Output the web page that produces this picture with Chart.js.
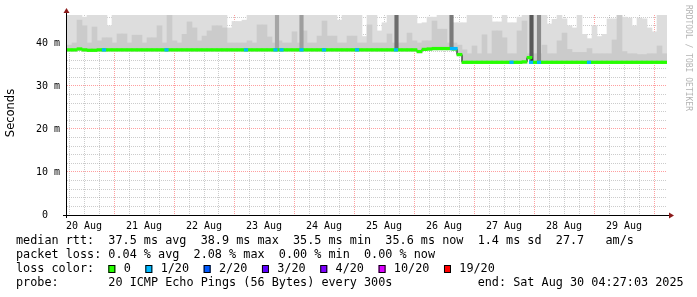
<!DOCTYPE html>
<html>
<head>
<meta charset="utf-8">
<title>smokeping 10 days</title>
<script src="https://cdn.jsdelivr.net/npm/chart.js@4.4.1/dist/chart.umd.min.js"></script>
<style>
body{margin:0;background:#fff;}
canvas{display:block;}
</style>
</head>
<body>
<canvas id="pingCanvas" width="697" height="297"></canvas>
<script>
// time axis in hours counted from 20 Aug 00:00
const startHour = 5.2;
const endHour = 245.2;
const binHours = 2;

const dayLabels = ["20 Aug","21 Aug","22 Aug","23 Aug","24 Aug","25 Aug","26 Aug","27 Aug","28 Aug","29 Aug"];
const yTicks = [0,2,4,6,8,10,12,14,16,18,20,22,24,26,28,30,32,34,36,38,40,42,44,46];

// median rtt (ms), one value per 2h bin
const medianRtt = [
  38.4,38.4,38.6,38.4,38.3,38.3,38.4,38.4,38.4,38.4,
  38.4,38.4,38.4,38.4,38.4,38.4,38.4,38.4,38.4,38.4,
  38.4,38.4,38.4,38.4,38.4,38.4,38.4,38.4,38.4,38.4,
  38.4,38.4,38.4,38.4,38.4,38.4,38.4,38.4,38.4,38.4,
  38.4,38.4,38.4,38.4,38.4,38.4,38.4,38.4,38.4,38.4,
  38.4,38.4,38.4,38.4,38.4,38.4,38.4,38.4,38.4,38.4,
  38.4,38.4,38.4,38.4,38.4,38.4,38.4,38.4,38.4,38.4,
  38.0,38.5,38.6,38.7,38.7,38.7,38.7,38.6,37.3,35.5,
  35.5,35.5,35.5,35.5,35.5,35.5,35.5,35.5,35.5,35.5,
  35.5,35.6,36.6,35.5,35.5,35.5,35.5,35.5,35.5,35.5,
  35.5,35.5,35.5,35.5,35.5,35.5,35.5,35.5,35.5,35.5,
  35.5,35.5,35.5,35.5,35.5,35.5,35.5,35.5,35.5,35.5
];

// top of the light smoke (ms), 47 = above the graph
const smokeTop = [
  47,47,47,46.0,47,47,47,47,44.0,47,
  47,47,47,47,47,47,47,47,47,47,
  47,47,47,47,47,47,47,47,47,47,
  47,47,43.5,45.0,45.0,45.3,47,47,47,47,
  47,47,47,47,47,47,47,47,47,47,
  47,47,47,47,45.3,47,47,47,47,41.5,
  47,47,42.8,44.7,47,47,47,47,47,47,
  44.5,44.7,46.0,46.0,47,47,47,44.7,44.7,44.7,
  47,47,47,47,47,44.9,44.9,47,44.7,44.7,
  46.0,47,47,47,47,47,44.4,45.5,47,45.6,
  44.0,43.5,47,42.0,41.0,44.0,41.5,42.0,45.6,45.6,
  47,46.0,45.8,44.0,45.8,45.6,43.5,42.6,47,47
];

// top of the darker smoke (ms)
const smokeMid = [
  39.5,40,45.3,44,40,43.7,40.5,41.2,41.2,40,
  42.1,42.1,40,41.8,41.8,40,41.2,41.2,44,40,
  47,40.5,40,42,44.9,43.5,40.5,41.6,42.8,44.0,
  44.0,43.5,40,40,40,40,40.5,40,44.2,44.2,
  41.4,40,40.5,40,40,42.6,40,42.8,40,40,
  41.6,45.1,41.6,41.6,40,40,41.6,41.6,40,40,
  44.2,40,40,40,42.1,40,40,40,42.3,40.5,
  40,40.5,40.5,45.1,43.2,43.2,40,40,39.5,38.4,
  37.5,39.3,37.5,41.9,37.5,42.8,42.8,41.2,37.5,37.5,
  42.8,45.1,37.5,37.5,37.5,39.5,37.5,37.5,40.5,42.3,
  38.5,37.8,37.8,37.8,38.7,37.5,37.5,37.5,37.5,40.7,
  47,38,37.5,37.5,37.3,37.3,37.5,37.5,39.3,37.5
];

// single bins where all pings were slow
const spikeHours = [89.2, 99, 137, 159, 191, 194];
const spikeLow = [38.4, 38.4, 38.4, 38.7, 35.6, 35.5];
const spikeColors = ["#a6a6a6","#9e9e9e","#6c6c6c","#7a7a7a","#585858","#8a8a8a"];

// 1/20 loss spots on the median
const lossHours = [20.0, 45.0, 76.8, 88.6, 91.0, 99.0, 108.0, 121.2, 136.8, 159.2, 160.6, 183.0, 190.8, 194.0, 214.0];
const lossRtt = [38.4,38.4,38.4,38.4,38.4,38.4,38.4,38.4,38.4,38.7,38.7,35.5,35.5,35.5,35.5];

const lossNames = ["0","1/20","2/20","3/20","4/20","10/20","19/20"];
const lossColors = ["#26ff00","#00b8ff","#0059ff","#5e00ff","#7e00ff","#dd00ff","#ff0000"];

const summaryLines = [
  "median rtt:  37.5 ms avg  38.9 ms max  35.5 ms min  35.6 ms now  1.4 ms sd  27.7   am/s",
  "packet loss: 0.04 % avg  2.08 % max  0.00 % min  0.00 % now",
  "loss color:",
  "probe:       20 ICMP Echo Pings (56 Bytes) every 300s            end: Sat Aug 30 04:27:03 2025"
];

const binTimes = medianRtt.map((v, i) => startHour + binHours * i + binHours / 2);

function floating(lo, hi) {
  return binTimes.map((t, i) => ({x: t, y: [lo[i], hi[i]]}));
}

const medLow = medianRtt.map(v => v - 0.3);
const medHigh = medianRtt.map(v => v + 0.3);
const smokeBase = medianRtt.map(v => v - 0.3);

const stepPoints = medianRtt.map((v, i) => ({x: startHour + binHours * i, y: v}));
stepPoints.push({x: endHour, y: medianRtt[medianRtt.length - 1]});

const mono = '"DejaVu Sans Mono", monospace';

const decor = {
  id: "decor",
  afterDraw(chart) {
    const c = chart.ctx;
    const a = chart.chartArea;
    c.save();
    // axes
    c.strokeStyle = "#000";
    c.lineWidth = 1;
    c.beginPath();
    c.moveTo(a.left - 0.5, a.bottom + 3);
    c.lineTo(a.left - 0.5, a.top - 2);
    c.moveTo(a.left - 4, a.bottom + 0.5);
    c.lineTo(a.right + 2, a.bottom + 0.5);
    c.stroke();
    c.fillStyle = "#8b1a1a";
    c.beginPath();
    c.moveTo(a.left - 0.5, a.top - 7);
    c.lineTo(a.left - 3.5, a.top - 2);
    c.lineTo(a.left + 2.5, a.top - 2);
    c.closePath();
    c.fill();
    c.beginPath();
    c.moveTo(a.right + 7, a.bottom + 0.5);
    c.lineTo(a.right + 2, a.bottom - 2.5);
    c.lineTo(a.right + 2, a.bottom + 3.5);
    c.closePath();
    c.fill();

    // y title
    c.fillStyle = "#000";
    c.font = '11.5px "DejaVu Sans"';
    c.textAlign = "center";
    c.textBaseline = "middle";
    c.save();
    c.translate(11, 113);
    c.rotate(-Math.PI / 2);
    c.fillText("Seconds", 0, 0);
    c.restore();

    // watermark
    c.save();
    c.fillStyle = "#b4b4b4";
    c.font = "8px " + mono;
    c.textAlign = "left";
    c.translate(688, 5);
    c.rotate(Math.PI / 2);
    c.fillText("RRDTOOL / TOBI OETIKER", 0, 0);
    c.restore();

    // summary text
    c.font = "11.8px " + mono;
    c.textAlign = "left";
    c.fillStyle = "#000";
    const rows = [241, 255, 269, 283];
    summaryLines.forEach((s, i) => c.fillText(s, 16, rows[i]));
    let x = 16 + 13 * c.measureText("m").width;
    lossNames.forEach((name, i) => {
      c.fillStyle = lossColors[i];
      c.fillRect(x, 265, 7, 8);
      c.strokeStyle = "#000";
      c.strokeRect(x + 0.5, 265.5, 6, 7);
      c.fillStyle = "#000";
      c.fillText(name, x + 15.3, rows[2]);
      x = x + 15.3 + c.measureText(name).width + 14.6;
    });
    c.restore();
  }
};

const pingCanvas = document.getElementById("pingCanvas");
const pingChart = new Chart(pingCanvas, {
  type: "bar",
  data: {
    datasets: [
      {
        label: "loss",
        data: lossHours.map((t, i) => ({x: t, y: [lossRtt[i] - 0.3, lossRtt[i] + 0.3]})),
        backgroundColor: lossColors[1],
        barThickness: 3.5,
        grouped: false,
        order: 0
      },
      {
        label: "median",
        data: floating(medLow, medHigh),
        backgroundColor: lossColors[0],
        barThickness: 5,
        grouped: false,
        order: 1
      },
      {
        type: "line",
        label: "step",
        data: stepPoints,
        stepped: true,
        borderColor: "#000",
        borderWidth: 1,
        pointRadius: 0,
        order: 2
      },
      {
        label: "spikes",
        data: spikeHours.map((t, i) => ({x: t, y: [spikeLow[i], 47]})),
        backgroundColor: spikeColors,
        barThickness: 3.5,
        grouped: false,
        order: 3
      },
      {
        label: "smoke mid",
        data: floating(smokeBase, smokeMid),
        backgroundColor: "#cbcbcb",
        barThickness: 5,
        grouped: false,
        order: 4
      },
      {
        label: "smoke top",
        data: floating(smokeBase, smokeTop),
        backgroundColor: "#dddddd",
        barThickness: 5,
        grouped: false,
        order: 5
      }
    ]
  },
  options: {
    responsive: false,
    animation: false,
    devicePixelRatio: 1,
    layout: {padding: {left: 0, right: 30, top: 15, bottom: 0}},
    plugins: {legend: {display: false}, tooltip: {enabled: false}},
    scales: {
      x: {
        type: "linear",
        min: startHour,
        max: endHour,
        offset: false,
        z: 1,
        afterFit: (scale) => { scale.height = 82; },
        afterBuildTicks: (scale) => {
          const t = [];
          for (let h = 6; h <= 240; h += 6) t.push({value: h});
          scale.ticks = t;
        },
        grid: {
          offset: false,
          drawTicks: false,
          color: (ctx) => ctx.tick && ctx.tick.value % 24 === 0 ? "rgba(255,80,80,0.55)" : "rgba(128,128,128,0.4)"
        },
        border: {display: false, dash: [1, 1]},
        ticks: {
          autoSkip: false,
          maxRotation: 0,
          padding: 5,
          color: "#000",
          font: {family: mono, size: 10},
          callback: (v) => v % 24 === 12 ? dayLabels[(v - 12) / 24] : ""
        }
      },
      y: {
        min: 0,
        max: 46.5,
        z: 1,
        afterFit: (scale) => { scale.width = 67; },
        afterBuildTicks: (scale) => { scale.ticks = yTicks.map(v => ({value: v})); },
        grid: {
          drawTicks: false,
          color: (ctx) => ctx.tick && ctx.tick.value % 10 === 0 ? "rgba(255,80,80,0.55)" : "rgba(128,128,128,0.4)"
        },
        border: {display: false, dash: [1, 1]},
        ticks: {
          autoSkip: false,
          padding: 7,
          color: "#000",
          font: {family: mono, size: 10},
          callback: (v) => v === 0 ? "0  " : (v % 10 === 0 ? v + " m" : "")
        }
      }
    }
  },
  plugins: [decor]
});
</script>
</body>
</html>
